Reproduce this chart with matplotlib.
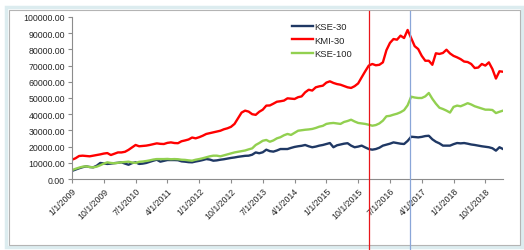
import numpy as np
import pandas as pd
import matplotlib
matplotlib.use('Agg')
import matplotlib.pyplot as plt
import matplotlib.transforms as mtransforms
from matplotlib.lines import Line2D
from matplotlib.patches import Rectangle

plt.rcParams['font.family'] = ['Liberation Sans', 'DejaVu Sans']

# monthly data, Jan 2009 - Mar 2019 (thousands of index points)
months = pd.date_range('2009-01-01', periods=123, freq='MS')

kse30 = [5.0, 5.8, 6.6, 7.3, 7.8, 7.4, 7.2, 8.2, 9.9, 9.6,
         9.3, 9.5, 9.8, 10.0, 10.3, 9.5, 8.8, 9.8, 10.3, 9.3,
         9.5, 9.9, 10.6, 11.3, 11.9, 10.7, 11.2, 11.7, 11.7, 11.7,
         11.6, 10.9, 10.7, 10.4, 10.3, 10.8, 11.2, 11.7, 12.3, 12.0,
         11.3, 11.5, 11.9, 12.2, 12.6, 13.0, 13.3, 13.7, 14.0, 14.3,
         14.4, 15.0, 16.4, 15.9, 16.5, 18.1, 17.2, 16.9, 17.6, 18.5,
         18.5, 18.5, 19.2, 19.8, 20.2, 20.5, 21.0, 20.2, 19.6, 20.0,
         20.6, 21.0, 21.6, 22.2, 19.6, 20.8, 21.3, 21.8, 22.1, 20.6,
         19.6, 20.0, 20.6, 19.5, 18.5, 18.1, 18.5, 19.3, 20.6, 21.2,
         21.8, 22.6, 22.2, 21.8, 21.6, 23.5, 26.1, 25.9, 25.7, 26.0,
         26.5, 26.7, 24.5, 23.0, 22.0, 20.6, 20.6, 20.6, 21.5, 22.2,
         22.0, 22.2, 21.8, 21.3, 21.0, 20.6, 20.2, 19.9, 19.6, 19.0,
         17.5, 19.6, 18.5]

kmi30 = [11.9, 12.8, 14.2, 14.4, 14.2, 14.0, 14.4, 14.8, 15.2, 15.7,
         16.0, 14.8, 15.6, 16.4, 16.4, 16.8, 18.0, 19.5, 21.0, 20.2,
         20.4, 20.6, 21.0, 21.5, 22.0, 21.7, 21.6, 22.3, 22.6, 22.2,
         22.1, 23.3, 23.8, 24.4, 25.6, 25.1, 25.8, 26.7, 27.8, 28.3,
         28.8, 29.3, 29.8, 30.7, 31.3, 32.2, 34.0, 37.5, 41.0, 42.2,
         41.6, 40.0, 39.6, 41.5, 42.8, 45.3, 45.4, 46.5, 47.7, 48.0,
         48.4, 49.8, 49.6, 49.4, 50.5, 51.0, 53.5, 55.1, 54.6, 56.6,
         57.2, 57.6, 59.5, 60.3, 59.3, 58.6, 58.2, 57.4, 56.6, 56.2,
         57.3, 59.0, 62.8, 66.5, 70.0, 71.0, 70.2, 70.5, 72.0, 79.5,
         84.0, 86.4, 86.0, 88.5, 87.0, 92.0, 87.0, 82.0, 80.2, 76.0,
         73.0, 73.0, 70.5, 77.6, 77.2, 77.8, 79.8, 77.5, 76.0, 75.1,
         74.0, 72.5, 72.2, 71.0, 68.5, 68.8, 71.0, 70.0, 72.0, 67.9,
         62.0, 66.5, 66.2]

kse100 = [5.5, 6.3, 7.0, 7.6, 7.8, 7.4, 7.2, 7.6, 8.5, 9.5,
          10.3, 9.9, 9.7, 10.0, 10.3, 10.5, 10.7, 10.2, 9.9, 10.6,
          10.8, 11.1, 11.5, 12.0, 12.3, 12.3, 12.3, 12.4, 12.2, 12.3,
          12.2, 11.9, 11.8, 11.5, 11.3, 11.9, 12.3, 12.8, 13.4, 14.0,
          14.4, 14.4, 14.0, 14.6, 15.2, 15.8, 16.4, 16.8, 17.2, 17.6,
          18.3, 18.9, 21.0, 22.2, 23.6, 24.1, 23.0, 23.8, 25.1, 25.8,
          27.0, 27.8, 27.2, 28.5, 29.8, 30.1, 30.4, 30.6, 30.9, 31.5,
          32.3, 32.8, 34.0, 34.4, 34.6, 34.3, 34.0, 35.2, 35.8, 36.6,
          35.5, 34.6, 34.3, 34.0, 33.5, 32.9, 33.3, 34.3, 36.0, 38.7,
          39.0, 39.7, 40.3, 41.2, 42.5, 45.5, 50.8, 50.3, 50.0, 50.0,
          51.0, 53.1, 49.5, 46.5, 44.0, 43.2, 42.2, 41.0, 44.5, 45.3,
          44.9, 45.8, 46.8, 46.0, 44.9, 44.2, 43.5, 42.8, 42.8, 42.6,
          40.7, 41.5, 42.2]

series = {'KSE-30': kse30, 'KMI-30': kmi30, 'KSE-100': kse100}
colors = {'KSE-30': '#1f3864', 'KMI-30': '#ff0000', 'KSE-100': '#92d050'}

# marker lines drawn on the chart (position in months from Jan 2009)
event_pos = [84.1, 95.6]
event_colors = ['#e8161b', '#8aa6d8']

fig = plt.figure(figsize=(5.24, 2.51), dpi=100)
fig.patch.set_facecolor('white')

# chart area frame
fig.patches.append(Rectangle((6 / 524, 3 / 251), 516 / 524, 240 / 251,
                             transform=fig.transFigure, fill=False,
                             edgecolor='#dcecef', lw=2.5))
fig.patches.append(Rectangle((9 / 524, 5 / 251), 511 / 524, 235 / 251,
                             transform=fig.transFigure, fill=False,
                             edgecolor='#b4b4b4', lw=0.8))

ax = fig.add_axes([72 / 524, 1 - 180 / 251, 431 / 524, 162 / 251])

x = np.arange(len(months))
for name, vals in series.items():
    ax.plot(x, np.array(vals) * 1000, color=colors[name], lw=1.7, label=name)

ax.set_xlim(0, len(months) - 1)
ax.set_ylim(0, 100000)
ax.set_yticks(np.arange(0, 100001, 10000))
ax.set_yticklabels([f'{v:.2f}' for v in np.arange(0, 100001, 10000)])

tick_idx = np.arange(0, len(months), 9)
ax.set_xticks(tick_idx)
ax.set_xticklabels([f'{d.month}/{d.day}/{d.year}' for d in months[tick_idx]],
                   rotation=45, ha='right', va='top', rotation_mode='anchor')

for s in ['top', 'right']:
    ax.spines[s].set_visible(False)
for s in ['left', 'bottom']:
    ax.spines[s].set_color('#8c8c8c')
    ax.spines[s].set_linewidth(0.8)
ax.tick_params(axis='both', colors='#8c8c8c', labelcolor='#262626',
               labelsize=6.3, length=3, width=0.8, pad=2)

leg = ax.legend(loc='upper left', bbox_to_anchor=(0.502, 0.99), frameon=False,
                fontsize=6.8, handlelength=2.2, handletextpad=0.1,
                labelspacing=0.45, borderaxespad=0)
for t in leg.get_texts():
    t.set_color('#262626')

# vertical marker lines run across the whole chart area
trans = mtransforms.blended_transform_factory(ax.transData, fig.transFigure)
for pos, c in zip(event_pos, event_colors):
    fig.add_artist(Line2D([pos, pos], [0, 1 - 12 / 251], transform=trans,
                          color=c, lw=0.9))

fig.savefig('out.png', dpi=100, facecolor='white')
